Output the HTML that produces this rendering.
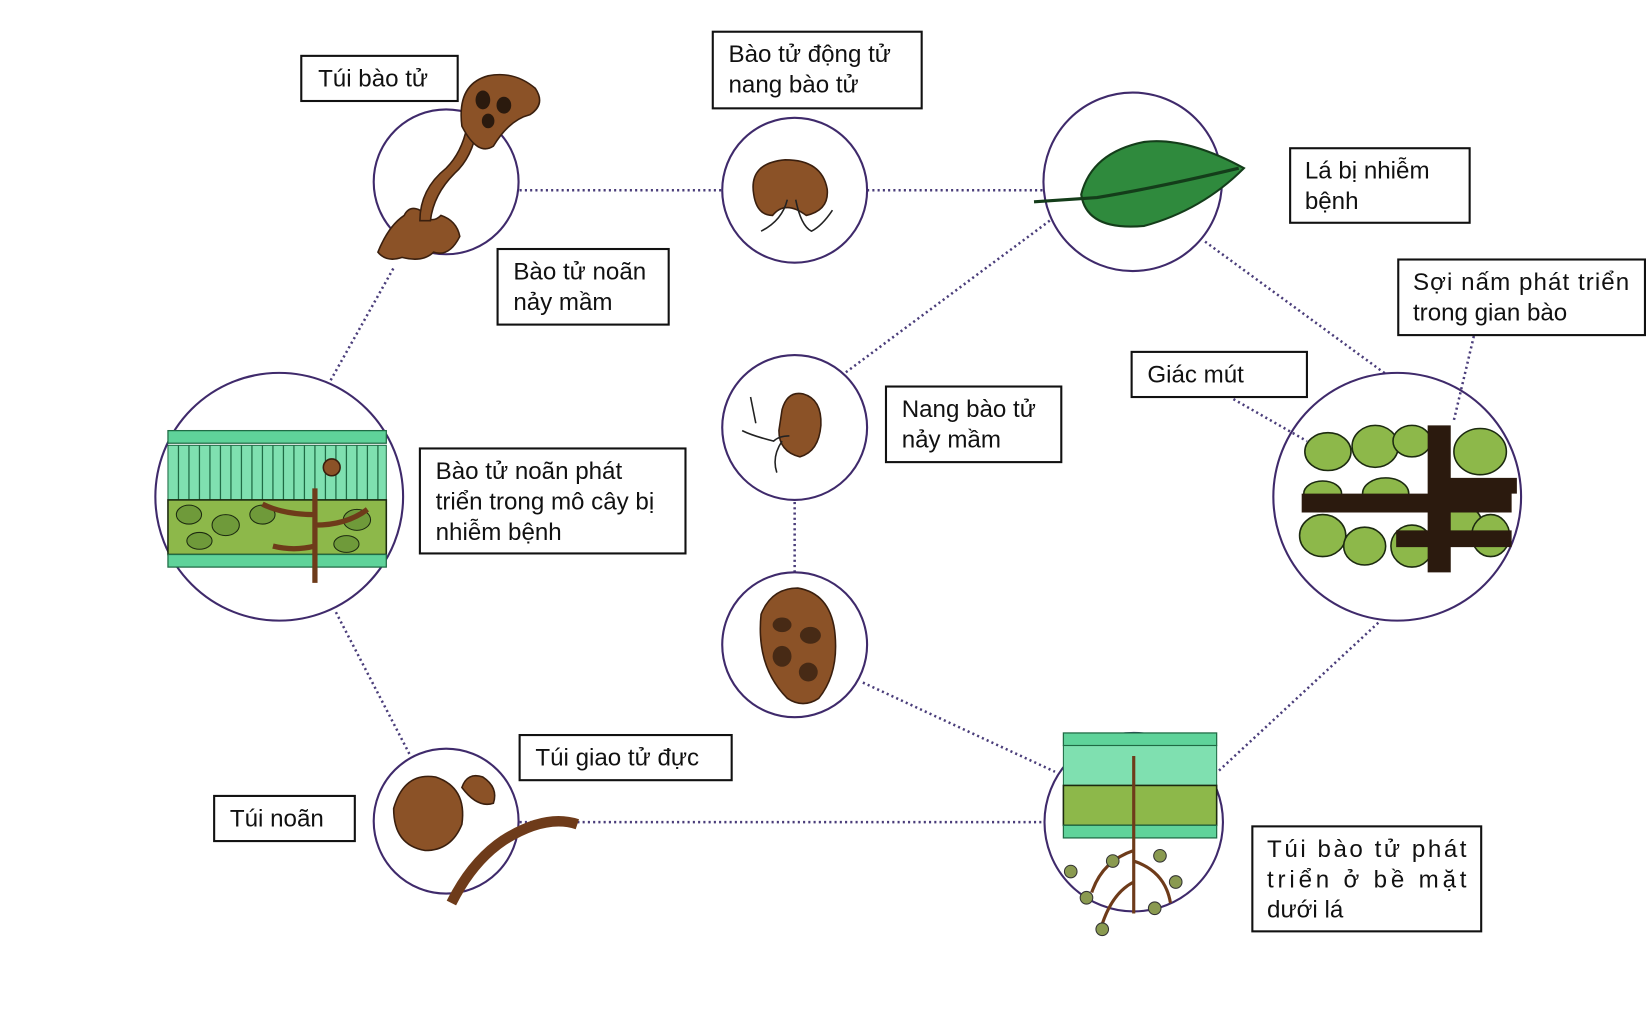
<!DOCTYPE html>
<html><head><meta charset="utf-8"><style>
html,body{margin:0;padding:0;background:#fff}
svg{display:block}
text{font-family:"Liberation Sans",sans-serif;font-size:23px;fill:#111}
.c{fill:none;stroke:#3f2a6b;stroke-width:2}
.d{stroke:#4a3d7a;stroke-width:2.4;stroke-dasharray:2 3;fill:none}
.b{fill:#fff;stroke:#111;stroke-width:2}
.br{fill:#8b5227;stroke:#3a1f0e;stroke-width:1.5}
.dk{fill:#2b1a0e}
.g{fill:#8db84a;stroke:#1c2a10;stroke-width:1.5}
.gc{fill:#5fd39a;stroke:#1f6b45;stroke-width:1.2}
</style></head><body>
<svg width="1646" height="1025" viewBox="0 0 1568 976" xmlns="http://www.w3.org/2000/svg">
<line class="d" x1="495" y1="181" x2="688" y2="181"/>
<line class="d" x1="826" y1="181" x2="995" y2="181"/>
<line class="d" x1="1000" y1="210" x2="805" y2="355"/>
<line class="d" x1="1148" y1="230" x2="1320" y2="356"/>
<line class="d" x1="1313" y1="593" x2="1160" y2="735"/>
<line class="d" x1="822" y1="650" x2="1005" y2="735"/>
<line class="d" x1="757" y1="478" x2="757" y2="546"/>
<line class="d" x1="495" y1="783" x2="995" y2="783"/>
<line class="d" x1="320" y1="583" x2="390" y2="718"/>
<line class="d" x1="315" y1="362" x2="375" y2="255"/>
<line class="d" x1="1175" y1="380" x2="1245" y2="420"/>
<line class="d" x1="1404" y1="320" x2="1385" y2="400"/>

<circle class="c" cx="425" cy="173" r="69"/>
<circle class="c" cx="757" cy="181" r="69"/>
<circle class="c" cx="1079" cy="173" r="85"/>
<circle class="c" cx="1331" cy="473" r="118"/>
<circle class="c" cx="1080" cy="783" r="85"/>
<circle class="c" cx="757" cy="614" r="69"/>
<circle class="c" cx="757" cy="407" r="69"/>
<circle class="c" cx="425" cy="782" r="69"/>
<circle class="c" cx="266" cy="473" r="118"/>

<path class="br" d="M360 240 q10-25 25-35 q5-10 15-5 q10 15 20 5 q15 5 18 20 q-10 20-25 15 q-10 10-30 5 q-15 5-23-5z"/>
<path class="br" d="M400 210 q0-30 25-50 q15-15 20-40 l10 0 q-5 30-22 45 q-20 20-23 45z"/>
<path class="br" d="M440 120 q-5-40 25-48 q25-5 45 12 q10 15-5 25 q-20 5-35 30 q-15 10-30-19z"/>
<ellipse class="dk" cx="460" cy="95" rx="7" ry="9"/><ellipse class="dk" cx="480" cy="100" rx="7" ry="8"/><ellipse class="dk" cx="465" cy="115" rx="6" ry="7"/>

<path class="br" d="M718 185 q-5-30 30-33 q35 0 40 28 q2 20-20 25 q-20-15-32 0 q-15 0-18-20z"/>
<path d="M750 190 q-5 20-25 30 M758 190 q5 25 15 30 q10-5 20-20" stroke="#222" fill="none" stroke-width="1.5"/>

<path d="M1030 185 q10-40 60-50 q40-5 95 25 q-40 40-95 55 q-55 5-60-30z" fill="#2f8a3d" stroke="#143d1a" stroke-width="2"/>
<path d="M985 192 l60-4 q60-10 135-28" stroke="#143d1a" stroke-width="3" fill="none"/>

<path class="br" d="M745 390 q5-18 20-15 q18 5 17 30 q-2 25-20 30 q-20-5-20-25z"/>
<path d="M752 415 q-10 0-15 5 q-20-5-30-10 M715 378 l5 25 M745 420 q-10 15-5 30" stroke="#222" fill="none" stroke-width="1.5"/>

<path class="br" d="M725 585 q10-25 35-25 q30 5 35 40 q5 40-15 65 q-15 10-30 0 q-30-30-25-80z"/>
<ellipse class="dk" cx="745" cy="595" rx="9" ry="7" opacity=".7"/><ellipse class="dk" cx="772" cy="605" rx="10" ry="8" opacity=".7"/><ellipse class="dk" cx="745" cy="625" rx="9" ry="10" opacity=".7"/><ellipse class="dk" cx="770" cy="640" rx="9" ry="9" opacity=".7"/>

<path d="M430 860 q20-40 50-60 q40-25 70-15" stroke="#6e3b1a" stroke-width="10" fill="none"/>
<path class="br" d="M375 770 q10-35 40-30 q30 10 25 45 q-10 25-35 25 q-30-5-30-40z"/>
<path class="br" d="M440 750 q5-15 20-10 q15 10 10 25 q-15 5-30-15z"/>

<rect x="160" y="410" width="208" height="12" class="gc"/>
<rect x="160" y="424" width="208" height="52" fill="#7fe0b0" stroke="#1f6b45"/>
<g stroke="#1f6b45" stroke-width="1.2"><path d="M170 424v52M180 424v52M190 424v52M200 424v52M210 424v52M220 424v52M230 424v52M240 424v52M250 424v52M260 424v52M270 424v52M280 424v52M290 424v52M300 424v52M310 424v52M320 424v52M330 424v52M340 424v52M350 424v52M360 424v52"/></g>
<rect x="160" y="476" width="208" height="52" class="g"/>
<g fill="#6f9a3a" stroke="#1c2a10" stroke-width="1"><ellipse cx="180" cy="490" rx="12" ry="9"/><ellipse cx="215" cy="500" rx="13" ry="10"/><ellipse cx="250" cy="490" rx="12" ry="9"/><ellipse cx="340" cy="495" rx="13" ry="10"/><ellipse cx="190" cy="515" rx="12" ry="8"/><ellipse cx="330" cy="518" rx="12" ry="8"/></g>
<rect x="160" y="528" width="208" height="12" class="gc"/>
<path d="M300 555 v-90 M300 490 q-30 0-50-10 M300 500 q30 0 50-15 M300 520 q-20 5-40 0" stroke="#6e3b1a" stroke-width="5" fill="none"/>
<circle cx="316" cy="445" r="8" class="br"/>

<g>
<ellipse class="g" cx="1265" cy="430" rx="22" ry="18"/><ellipse class="g" cx="1310" cy="425" rx="22" ry="20"/><ellipse class="g" cx="1345" cy="420" rx="18" ry="15"/>
<ellipse class="g" cx="1410" cy="430" rx="25" ry="22"/><ellipse class="g" cx="1260" cy="510" rx="22" ry="20"/><ellipse class="g" cx="1300" cy="520" rx="20" ry="18"/>
<ellipse class="g" cx="1345" cy="520" rx="20" ry="20"/><ellipse class="g" cx="1390" cy="500" rx="22" ry="20"/><ellipse class="g" cx="1420" cy="510" rx="18" ry="20"/>
<ellipse class="g" cx="1320" cy="470" rx="22" ry="15"/><ellipse class="g" cx="1260" cy="470" rx="18" ry="12"/><ellipse class="g" cx="1415" cy="470" rx="22" ry="12"/>
<path class="dk" d="M1240 470 h200 v18 h-200z M1360 405 h22 v140 h-22z M1330 505 h110 v16 h-110z M1360 455 h85 v15 h-85z"/>
</g>

<rect x="1013" y="698" width="146" height="12" class="gc"/>
<rect x="1013" y="710" width="146" height="38" fill="#7fe0b0" stroke="#1f6b45"/>
<rect x="1013" y="748" width="146" height="38" class="g"/>
<rect x="1013" y="786" width="146" height="12" class="gc"/>
<path d="M1080 720 v150 M1080 810 q-30 10-40 40 M1080 820 q30 10 35 40 M1080 840 q-20 10-30 40" stroke="#6e3b1a" stroke-width="3" fill="none"/>
<g fill="#8a9a50" stroke="#333"><circle cx="1035" cy="855" r="6"/><circle cx="1020" cy="830" r="6"/><circle cx="1050" cy="885" r="6"/><circle cx="1100" cy="865" r="6"/><circle cx="1120" cy="840" r="6"/><circle cx="1105" cy="815" r="6"/><circle cx="1060" cy="820" r="6"/></g>

<rect class="b" x="287" y="53" width="149" height="43"/><text x="303" y="82">Túi bào tử</text>
<rect class="b" x="679" y="30" width="199" height="73"/><text x="694" y="59">Bào tử động tử</text><text x="694" y="88">nang bào tử</text>
<rect class="b" x="1229" y="141" width="171" height="71"/><text x="1243" y="170">Lá bị nhiễm</text><text x="1243" y="199">bệnh</text>
<rect class="b" x="1332" y="247" width="235" height="72"/><text x="1346" y="276" textLength="206">Sợi nấm phát triển</text><text x="1346" y="305">trong gian bào</text>
<rect class="b" x="1078" y="335" width="167" height="43"/><text x="1093" y="364">Giác mút</text>
<rect class="b" x="474" y="237" width="163" height="72"/><text x="489" y="266">Bào tử noãn</text><text x="489" y="295">nảy mầm</text>
<rect class="b" x="844" y="368" width="167" height="72"/><text x="859" y="397">Nang bào tử</text><text x="859" y="426">nảy mầm</text>
<rect class="b" x="400" y="427" width="253" height="100"/><text x="415" y="456">Bào tử noãn phát</text><text x="415" y="485">triển trong mô cây bị</text><text x="415" y="514">nhiễm bệnh</text>
<rect class="b" x="495" y="700" width="202" height="43"/><text x="510" y="729">Túi giao tử đực</text>
<rect class="b" x="204" y="758" width="134" height="43"/><text x="219" y="787">Túi noãn</text>
<rect class="b" x="1193" y="787" width="218" height="100"/><text x="1207" y="816" textLength="190">Túi bào tử phát</text><text x="1207" y="845" textLength="190">triển ở bề mặt</text><text x="1207" y="874">dưới lá</text>
</svg>
</body></html>
